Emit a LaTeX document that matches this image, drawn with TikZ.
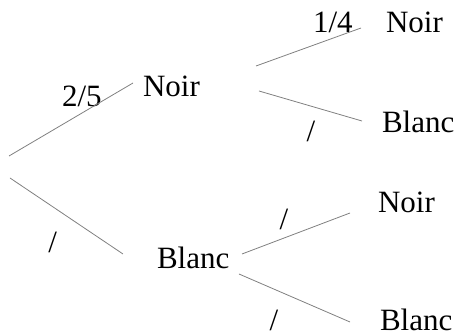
\documentclass[tikz,border=0pt]{standalone}
\usepackage{fontspec}
\setmainfont{Liberation Serif}
\begin{document}
\begin{tikzpicture}[x=1pt,y=-1pt,
  lbl/.style={anchor=base west,inner sep=0pt,outer sep=0pt,font=\fontsize{31}{36}\selectfont},
  branch/.style={draw=black!50,line width=0.8pt}]
\useasboundingbox (0,0) rectangle (456,336);
% labels
\node[lbl] (n1) at (143,97) {Noir};
\node[lbl] (b1) at (157,269) {Blanc};
\node[lbl] (n11) at (386,33) {Noir};
\node[lbl] (b12) at (382,133) {Blanc};
\node[lbl] (n21) at (378,213) {Noir};
\node[lbl] (b22) at (380,330.5) {Blanc};
\node[lbl] (p1) at (62,107) {2/5};
\node[lbl] (p2) at (48.5,253) {/};
\node[lbl] (p11) at (313,33) {1/4};
\node[lbl] (p12) at (306.5,142) {/};
\node[lbl] (p21) at (279.5,230) {/};
\node[lbl] (p22) at (269.5,330.5) {/};
% branch end points
\coordinate (r1) at (9,156);
\coordinate (r2) at (10,178);
\coordinate (e1) at (133,83);
\coordinate (e2) at (123,254);
\coordinate (s11) at (256,66);
\coordinate (t11) at (361,28);
\coordinate (s12) at (259,91);
\coordinate (t12) at (362,121);
\coordinate (s21) at (242,254);
\coordinate (t21) at (350,213);
\coordinate (s22) at (239,274);
\coordinate (t22) at (350,322);
\draw[branch] (r1) -- (e1);
\draw[branch] (r2) -- (e2);
\draw[branch] (s11) -- (t11);
\draw[branch] (s12) -- (t12);
\draw[branch] (s21) -- (t21);
\draw[branch] (s22) -- (t22);
\end{tikzpicture}
\end{document}
